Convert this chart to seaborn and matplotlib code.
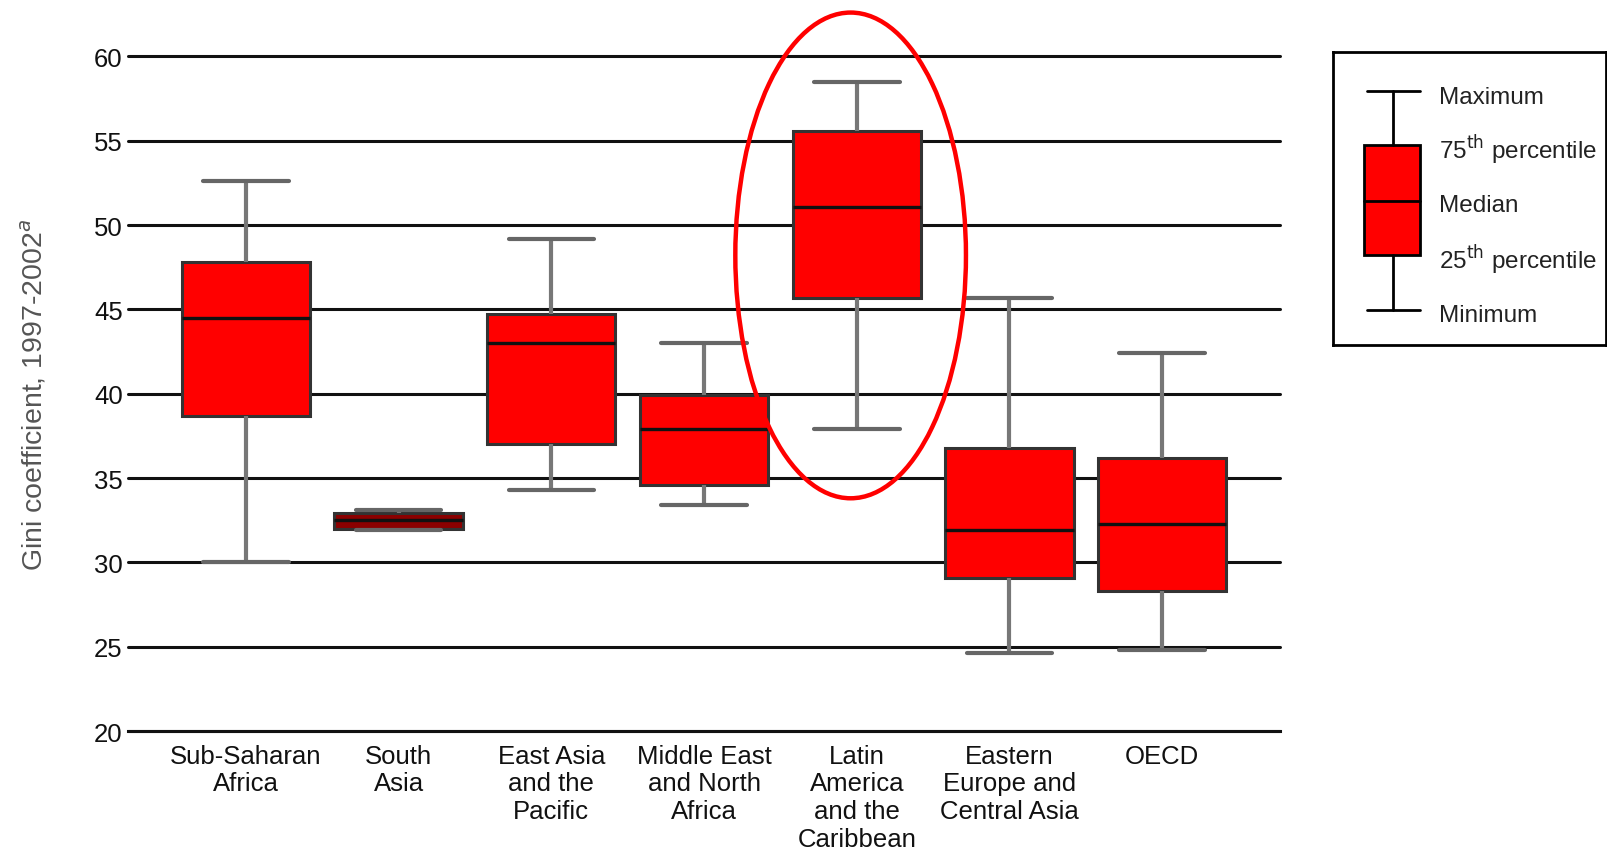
import numpy as np
import pandas as pd
import matplotlib
matplotlib.use("Agg")
import matplotlib.pyplot as plt
from matplotlib.patches import Ellipse, Rectangle
import seaborn as sns

# Gini coefficient by region, 1997-2002
regions = ["Sub-Saharan\nAfrica", "South\nAsia", "East Asia\nand the\nPacific",
           "Middle East\nand North\nAfrica", "Latin\nAmerica\nand the\nCaribbean",
           "Eastern\nEurope and\nCentral Asia", "OECD"]
gini_min = [30.0, 31.9, 34.3, 33.4, 37.9, 24.6, 24.8]
gini_q1 = [38.7, 32.0, 37.0, 34.6, 45.7, 29.1, 28.3]
gini_median = [44.5, 32.5, 43.0, 37.9, 51.1, 31.9, 32.3]
gini_q3 = [47.8, 32.9, 44.7, 39.9, 55.6, 36.8, 36.2]
gini_max = [52.6, 33.1, 49.2, 43.0, 58.5, 45.7, 42.4]
box_colors = ["red", "darkred", "red", "red", "red", "red", "red"]

y_ticks = [20, 25, 30, 35, 40, 45, 50, 55, 60]
legend_labels = ["Maximum", r"75$^{\mathrm{th}}$ percentile", "Median",
                 r"25$^{\mathrm{th}}$ percentile", "Minimum"]

# five points per region -> quartiles come out exactly as read
rows = []
for i, r in enumerate(regions):
    for v in (gini_min[i], gini_q1[i], gini_median[i], gini_q3[i], gini_max[i]):
        rows.append({"region": r, "gini": v})
df = pd.DataFrame(rows)

sns.set_style("white")
plt.rcParams["font.family"] = ["Liberation Sans", "DejaVu Sans"]

# layout measured on a 1568 x 832 view of the reference
W, H = 1568, 832
fig = plt.figure(figsize=(16.08, 8.53), dpi=100)
ax = fig.add_axes([125 / W, 1 - 714 / H, (1248 - 125) / W, (714 - 56) / H])

sns.boxplot(data=df, x="region", y="gini", hue="region", order=regions,
            palette=dict(zip(regions, box_colors)), legend=False, saturation=1,
            whis=(0, 100), width=0.84, capwidths=0.56, ax=ax,
            boxprops={"edgecolor": "#333333", "linewidth": 2.2},
            whiskerprops={"color": "#777777", "linewidth": 3},
            capprops={"color": "#666666", "linewidth": 3},
            medianprops={"color": "#111111", "linewidth": 2.4})

ax.set_ylim(20, 60)
ax.set_xlim(-0.77, 6.77)
ax.set_yticks(y_ticks)
ax.set_axisbelow(True)
ax.yaxis.grid(True, color="#111111", linewidth=2.2)
for gl in ax.get_ygridlines():
    gl.set_clip_on(False)
for side in ["top", "right", "left"]:
    ax.spines[side].set_visible(False)
ax.spines["bottom"].set_color("#111111")
ax.spines["bottom"].set_linewidth(2.2)

ax.tick_params(axis="y", length=0, pad=4, labelsize=18.5, labelcolor="#111111")
ax.tick_params(axis="x", length=3, width=1, color="#999999", pad=6,
               labelsize=18.5, labelcolor="#111111")
for lbl in ax.get_xticklabels():
    lbl.set_linespacing(1.2)
    lbl.set_verticalalignment("top")
ax.set_xlabel("")
ax.set_ylabel("Gini coefficient, 1997-2002$^{a}$", fontsize=20.5, color="#555555",
              labelpad=33)

# red ellipse around Latin America
ax.add_patch(Ellipse((3.96, 48.2), 1.51, 28.8, fill=False, edgecolor="red",
                     linewidth=3.2, clip_on=False, zorder=6))

# legend key drawn as a small box diagram
lax = fig.add_axes([1300 / W, 1 - 337 / H, 266 / W, 285 / H])
lax.set_xlim(0, 266)
lax.set_ylim(285, 0)
lax.set_xticks([])
lax.set_yticks([])
for s in lax.spines.values():
    s.set_linewidth(2)
    s.set_color("black")
lax.plot([33, 85], [38, 38], color="black", lw=2)
lax.plot([58, 58], [38, 90], color="black", lw=2)
lax.add_patch(Rectangle((30, 90), 55, 108, facecolor="red", edgecolor="black", lw=2))
lax.plot([30, 85], [145, 145], color="black", lw=2)
lax.plot([58, 58], [198, 251], color="black", lw=2)
lax.plot([33, 85], [251, 251], color="black", lw=2)
for y, t in zip([44, 95, 149, 202, 256], legend_labels):
    lax.text(103, y, t, fontsize=17.5, color="#222222", va="center", ha="left")

fig.savefig("out.png", dpi=100)
